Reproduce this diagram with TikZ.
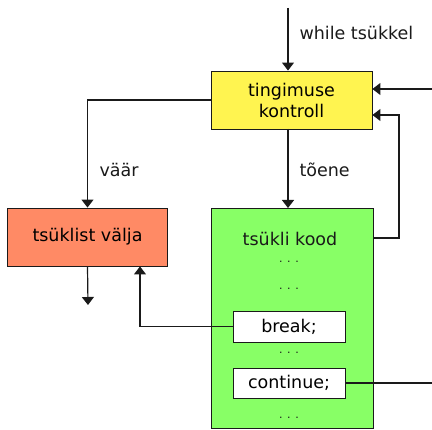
\documentclass[tikz,border=0pt]{standalone}
\usepackage{fontspec}
\setmainfont{DejaVu Sans}
\usetikzlibrary{arrows.meta}
\definecolor{yel}{HTML}{FFF450}
\definecolor{ora}{HTML}{FF8A65}
\definecolor{gre}{HTML}{88FF66}
\definecolor{ink}{HTML}{1A1A1A}
\begin{document}
\begin{tikzpicture}[x=1pt,y=-1pt,
  box/.style={draw=ink, line width=0.9pt, inner sep=0pt, font=\fontsize{17.5}{21}\selectfont, align=center},
  arr/.style={draw=ink, line width=1.2pt, -{Triangle[width=12pt,length=8pt]}},
  ln/.style={draw=ink, line width=1.2pt},
  lbl/.style={font=\fontsize{17.5}{21}\selectfont, anchor=west, text=ink},
  dots/.style={font=\fontsize{11}{12}\selectfont, text=ink}]
\useasboundingbox (0,0) rectangle (432,430);
\node[box, fill=yel, minimum width=161pt, minimum height=58pt] (Y) at (291.5,100) {tingimuse\\kontroll};
\node[box, fill=ora, minimum width=160pt, minimum height=58pt] (O) at (87.5,237) {tsüklist välja};
\node[box, fill=gre, minimum width=162pt, minimum height=220pt] (G) at (292,318) {};
\node[font=\fontsize{17.5}{21}\selectfont, text=ink] (T) at (290,239) {tsükli kood};
\node[dots] (d1) at (289,262) {. . .};
\node[dots] (d2) at (289,289) {. . .};
\node[box, fill=white, minimum width=112pt, minimum height=31pt] (B) at (289,326.5) {break;};
\node[dots] (d3) at (289,353) {. . .};
\node[box, fill=white, minimum width=112pt, minimum height=30pt] (C) at (289,383) {continue;};
\node[dots] (d4) at (289,418) {. . .};
\coordinate (top) at (288,8);
\coordinate (inR) at (432,89);
\coordinate (outC) at (432,383);
\coordinate (exitO) at (88,305);
\coordinate (gR) at (G.east |- 0,238);
\coordinate (yR) at (Y.east |- 0,115);
\coordinate (rx) at (399,0);
\coordinate (bx) at (140,0);
\coordinate (yl) at (Y.west |- 0,100);
\draw[arr] (top) -- (top |- Y.north);
\draw[arr] (288,129) -- (288,208);
\draw[arr] (inR) -- (Y.east |- inR);
\draw[arr] (gR) -| (rx |- yR) -- (yR);
\draw[arr] (yl) -| (O.north);
\draw[arr] (O.south) -- (exitO);
\draw[arr] (B.west) -| (bx |- O.south);
\draw[ln] (C.east) -- (outC);
\node[lbl] (L1) at (296,33) {while tsükkel};
\node[lbl] (L2) at (96,170) {väär};
\node[lbl] (L3) at (296,170) {tõene};
\end{tikzpicture}
\end{document}
